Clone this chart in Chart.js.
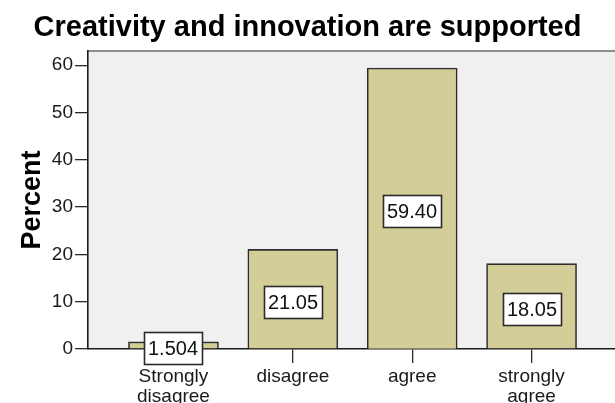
<!DOCTYPE html>
<html>
<head>
<meta charset="utf-8">
<script src="https://cdn.jsdelivr.net/npm/chart.js@4"></script>
<style>
  html, body { margin: 0; padding: 0; background: #fff; overflow: hidden; }
  #wrap { width: 615px; height: 403px; }
</style>
</head>
<body>
<div id="wrap"><canvas id="freqChart"></canvas></div>
<script>
const categories = [['Strongly', 'disagree'], 'disagree', 'agree', ['strongly', 'agree']];
const percents = [1.504, 21.05, 59.40, 18.05];
const yTicks = [0, 10, 20, 30, 40, 50, 60];

const FONT = "'Liberation Sans', Arial, sans-serif";

// grey plot background + top frame line
const plotFrame = {
  id: 'plotFrame',
  beforeDraw(chart) {
    const { ctx, chartArea: a } = chart;
    ctx.save();
    ctx.fillStyle = '#f0f0f0';
    ctx.fillRect(a.left, a.top, a.right - a.left, a.bottom - a.top);
    ctx.strokeStyle = '#8c8c8c';
    ctx.lineWidth = 2;
    ctx.beginPath();
    ctx.moveTo(a.left, a.top);
    ctx.lineTo(a.right, a.top);
    ctx.stroke();
    ctx.restore();
  }
};

// boxed value labels in the middle of each bar
const boxLabels = {
  id: 'boxLabels',
  afterDatasetsDraw(chart) {
    const { ctx } = chart;
    const meta = chart.getDatasetMeta(0);
    ctx.save();
    ctx.font = '20px ' + FONT;
    ctx.textAlign = 'center';
    ctx.textBaseline = 'middle';
    meta.data.forEach((bar, i) => {
      const txt = percents[i].toPrecision(4);
      const w = Math.round(ctx.measureText(txt).width + 8);
      const h = 32;
      const cx = Math.round(bar.x);
      const cy = Math.round((bar.y + bar.base) / 2 + 3);
      const x0 = cx - Math.round(w / 2) + 0.5;
      const y0 = cy - h / 2 + 0.5;
      ctx.fillStyle = '#ffffff';
      ctx.fillRect(x0, y0, w, h);
      ctx.strokeStyle = '#2a2a2a';
      ctx.lineWidth = 1.6;
      ctx.strokeRect(x0, y0, w, h);
      ctx.fillStyle = '#111111';
      ctx.fillText(txt, cx, cy + 1);
    });
    ctx.restore();
  }
};

const ctx = document.getElementById('freqChart').getContext('2d');
new Chart(ctx, {
  type: 'bar',
  data: {
    datasets: [{
      data: percents.map((p, i) => ({ x: i, y: p })),
      backgroundColor: '#d3ce97',
      borderColor: '#2e2e2e',
      borderWidth: 1.6,
      barThickness: 90
    }]
  },
  plugins: [plotFrame, boxLabels],
  options: {
    responsive: true,
    maintainAspectRatio: false,
    animation: false,
    layout: { padding: 0 },
    plugins: {
      legend: { display: false },
      tooltip: { enabled: false },
      title: {
        display: true,
        text: 'Creativity and innovation are supported',
        color: '#000',
        font: { family: FONT, size: 29, weight: 'bold', lineHeight: 1.2 },
        padding: { top: 10.6, bottom: 5.6 }
      }
    },
    scales: {
      x: {
        type: 'linear',
        offset: false,
        min: -0.716,
        max: 3.699,
        afterFit: s => { s.height = 54; },
        afterBuildTicks: s => { s.ticks = categories.map((c, i) => ({ value: i })); },
        ticks: {
          autoSkip: false,
          maxRotation: 0,
          padding: 4,
          color: '#1a1a1a',
          font: { family: FONT, size: 19, lineHeight: 1.05 },
          callback: v => categories[v]
        },
        grid: { offset: false, drawOnChartArea: false, tickLength: 14, color: '#2a2a2a', lineWidth: 1.3 },
        border: { color: '#1a1a1a', width: 1.6 }
      },
      y: {
        min: 0,
        max: 63,
        afterFit: s => { s.width = 88; },
        afterBuildTicks: s => { s.ticks = yTicks.map(v => ({ value: v })); },
        ticks: {
          padding: 2,
          color: '#1a1a1a',
          font: { family: FONT, size: 19 }
        },
        grid: { drawOnChartArea: false, tickLength: 13, color: '#2a2a2a', lineWidth: 1.3 },
        border: { color: '#1a1a1a', width: 1.6 },
        title: {
          display: true,
          text: 'Percent',
          color: '#000',
          font: { family: FONT, size: 27, weight: 'bold', lineHeight: 1.2 },
          padding: { top: 16.8, bottom: 0 }
        }
      }
    }
  }
});
</script>
</body>
</html>
